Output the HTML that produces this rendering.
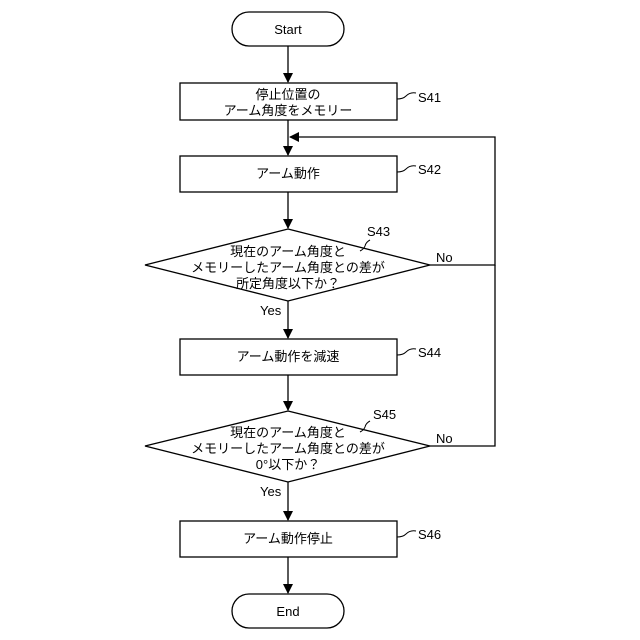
<!DOCTYPE html>
<html><head><meta charset="utf-8"><style>
html,body{margin:0;padding:0;background:#fff;}
svg{display:block;}
text{font-family:"Liberation Sans","Noto Sans CJK JP",sans-serif;font-size:13px;fill:#000;}
</style></head><body>
<svg width="640" height="640" viewBox="0 0 640 640">
<defs><marker id="a" markerWidth="10" markerHeight="10" refX="9" refY="5" orient="auto" markerUnits="userSpaceOnUse"><path d="M0,0 L10,5 L0,10 Z" fill="#000"/></marker></defs>
<g stroke="#000" stroke-width="1.3" fill="none">
<rect x="232" y="12" width="112" height="34" rx="17" fill="#fff"/>
<rect x="180" y="83" width="217" height="37"/>
<rect x="180" y="156" width="217" height="36"/>
<polygon points="288,229 430,265 288,301 145,265"/>
<rect x="180" y="339" width="217" height="36"/>
<polygon points="288,411 430,446 288,482 145,446"/>
<rect x="180" y="521" width="217" height="36"/>
<rect x="232" y="594" width="112" height="34" rx="17"/>
<line x1="288" y1="46" x2="288" y2="82" marker-end="url(#a)"/>
<line x1="288" y1="120" x2="288" y2="155" marker-end="url(#a)"/>
<line x1="288" y1="192" x2="288" y2="228" marker-end="url(#a)"/>
<line x1="288" y1="301" x2="288" y2="338" marker-end="url(#a)"/>
<line x1="288" y1="375" x2="288" y2="410" marker-end="url(#a)"/>
<line x1="288" y1="482" x2="288" y2="520" marker-end="url(#a)"/>
<line x1="288" y1="557" x2="288" y2="593" marker-end="url(#a)"/>
<polyline points="430,265 495,265 495,137 290,137" marker-end="url(#a)"/>
<polyline points="430,446 495,446 495,265"/>
<path d="M397,99 q6,0 9,-3 q4,-4 10,-3" stroke-width="1"/>
<path d="M397,172 q6,0 9,-3 q4,-4 10,-3" stroke-width="1"/>
<path d="M397,355 q6,0 9,-3 q4,-4 10,-3" stroke-width="1"/>
<path d="M397,537 q6,0 9,-3 q4,-4 10,-3" stroke-width="1"/>
<path d="M360,251 q4,-2 5,-5 q1,-4 5,-6" stroke-width="1"/>
<path d="M360,432 q4,-2 5,-5 q1,-4 5,-6" stroke-width="1"/>
</g>
<g text-anchor="middle">
<text x="288" y="34">Start</text>
<text x="288" y="99">停止位置の</text>
<text x="288" y="115">アーム角度をメモリー</text>
<text x="288" y="178">アーム動作</text>
<text x="288" y="256">現在のアーム角度と</text>
<text x="288" y="272">メモリーしたアーム角度との差が</text>
<text x="288" y="288">所定角度以下か？</text>
<text x="288" y="361">アーム動作を減速</text>
<text x="288" y="437">現在のアーム角度と</text>
<text x="288" y="453">メモリーしたアーム角度との差が</text>
<text x="288" y="469">0°以下か？</text>
<text x="288" y="543">アーム動作停止</text>
<text x="288" y="616">End</text>
</g>
<text x="418" y="102">S41</text>
<text x="418" y="174">S42</text>
<text x="367" y="236">S43</text>
<text x="418" y="357">S44</text>
<text x="373" y="419">S45</text>
<text x="418" y="539">S46</text>
<text x="436" y="262">No</text>
<text x="436" y="443">No</text>
<text x="260" y="315">Yes</text>
<text x="260" y="496">Yes</text>
</svg>
</body></html>
